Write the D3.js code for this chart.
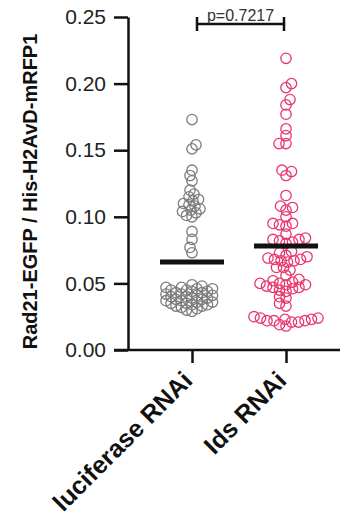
<!DOCTYPE html>
<html>
<head>
<meta charset="utf-8">
<script src="https://cdn.jsdelivr.net/npm/d3@7"></script>
<style>
  html, body { margin: 0; padding: 0; background: #ffffff; }
  svg { display: block; }
</style>
</head>
<body>
<svg id="chart"></svg>
<script>
// groups shown on the x axis
const categories = ["luciferase RNAi", "Ids RNAi"];

// per-cell ratios
const luciferaseValues = [
  0.173, 0.154, 0.151, 0.135, 0.131, 0.127, 0.120,
  0.117, 0.115, 0.113, 0.112, 0.110, 0.109, 0.108, 0.106, 0.105, 0.104, 0.103, 0.101, 0.100,
  0.089, 0.083, 0.077, 0.073,
  0.049, 0.048, 0.047, 0.047, 0.046, 0.046, 0.045, 0.045, 0.044, 0.044, 0.043, 0.043,
  0.042, 0.042, 0.041, 0.041, 0.040, 0.040, 0.039, 0.039, 0.038, 0.038, 0.037, 0.037,
  0.036, 0.036, 0.035, 0.035, 0.034, 0.034, 0.033, 0.033, 0.032, 0.031, 0.030, 0.029
];

const idsValues = [
  0.219, 0.200, 0.197, 0.188, 0.184, 0.177, 0.166, 0.161, 0.155, 0.155, 0.135, 0.134, 0.131,
  0.116, 0.108, 0.107, 0.105, 0.100, 0.095, 0.095, 0.094, 0.093, 0.087, 0.084, 0.083, 0.083,
  0.082, 0.081, 0.080,
  0.074, 0.073, 0.071, 0.070, 0.069, 0.068, 0.068, 0.067, 0.067, 0.066, 0.062, 0.062, 0.060,
  0.056, 0.053, 0.052, 0.051, 0.050, 0.050, 0.049, 0.049, 0.048, 0.047, 0.047, 0.046, 0.045,
  0.044, 0.040, 0.039, 0.035, 0.033,
  0.025, 0.024, 0.024, 0.023, 0.023, 0.022, 0.022, 0.022, 0.021, 0.021, 0.019, 0.018
];

const groupMeans = [0.066, 0.078];
const yTicks = [0.00, 0.05, 0.10, 0.15, 0.20, 0.25];
const pLabel = "p=0.7217";
const yTitle = "Rad21-EGFP / His-H2AvD-mRFP1";

const width = 342, height = 519;
const axisX = 128, axisBottom = 350, axisTop = 17;
const colors = ["#7d7d7d", "#e8386f"];
const dotR = 5.2;
const minDist = [5.6, 6.6];

const svg = d3.select("#chart").attr("width", width).attr("height", height);

const y = d3.scaleLinear().domain([0, 0.25]).range([axisBottom, axisTop]);
const x = d3.scalePoint().domain(categories).range([192, 286]);

// simple deterministic swarm so the dots spread sideways like Prism does
const swarm = (values, cx, dist) => {
  const placed = [];
  const sorted = values.map((v, i) => ({ v, i })).sort((a, b) => a.v - b.v);
  sorted.forEach((d, k) => {
    const py = y(d.v);
    const sign = k % 2 === 0 ? 1 : -1;
    for (let off = 0; off < 80; off += 0.5) {
      const cands = off === 0 ? [0] : [sign * off, -sign * off];
      let found = null;
      for (const c of cands) {
        const px = cx + c;
        const ok = placed.every(p => (p.x - px) ** 2 + (p.y - py) ** 2 >= dist * dist);
        if (ok) { found = px; break; }
      }
      if (found !== null) { placed.push({ x: found, y: py, v: d.v }); break; }
    }
  });
  return placed;
};

const groups = [luciferaseValues, idsValues];

groups.forEach((vals, gi) => {
  const pts = swarm(vals, x(categories[gi]), minDist[gi]);
  svg.append("g")
    .selectAll("circle")
    .data(pts)
    .join("circle")
    .attr("cx", d => d.x)
    .attr("cy", d => d.y)
    .attr("r", dotR)
    .attr("fill", "none")
    .attr("stroke", colors[gi])
    .attr("stroke-width", 1.3);
});

// mean bars
svg.append("g")
  .selectAll("line")
  .data(groupMeans)
  .join("line")
  .attr("x1", (d, i) => x(categories[i]) - 32)
  .attr("x2", (d, i) => x(categories[i]) + 32)
  .attr("y1", d => y(d))
  .attr("y2", d => y(d))
  .attr("stroke", "#111")
  .attr("stroke-width", 5);

// y axis
const yAxis = svg.append("g")
  .attr("transform", `translate(${axisX},0)`)
  .call(d3.axisLeft(y).tickValues(yTicks).tickFormat(d3.format(".2f")).tickSize(14).tickPadding(8).tickSizeOuter(0));
yAxis.select(".domain").attr("stroke", "#111").attr("stroke-width", 2.5);
yAxis.selectAll(".tick line").attr("stroke", "#111").attr("stroke-width", 2.5);
yAxis.selectAll(".tick text")
  .attr("font-family", "Liberation Sans, Arial, sans-serif")
  .attr("font-size", 21)
  .attr("fill", "#222");

// x axis
const xAxis = svg.append("g")
  .attr("transform", `translate(0,${axisBottom})`)
  .call(d3.axisBottom(x).tickSize(13).tickSizeOuter(0).tickFormat(""));
xAxis.select(".domain").remove();
xAxis.selectAll(".tick line").attr("stroke", "#111").attr("stroke-width", 2.5);
xAxis.append("line")
  .attr("x1", axisX - 14).attr("x2", 340)
  .attr("y1", 0).attr("y2", 0)
  .attr("stroke", "#111").attr("stroke-width", 2.5);

// rotated category labels
svg.append("g")
  .selectAll("text")
  .data(categories)
  .join("text")
  .attr("transform", d => `translate(${x(d) + 2},${axisBottom + 32}) rotate(-45)`)
  .attr("text-anchor", "end")
  .attr("font-family", "Liberation Sans, Arial, sans-serif")
  .attr("font-weight", "bold")
  .attr("font-size", 25)
  .attr("fill", "#111")
  .text(d => d);

// y title
svg.append("text")
  .attr("transform", `translate(37,${(axisTop + axisBottom) / 2 + 8}) rotate(-90)`)
  .attr("text-anchor", "middle")
  .attr("font-family", "Liberation Sans, Arial, sans-serif")
  .attr("font-weight", "bold")
  .attr("font-size", 20)
  .attr("fill", "#111")
  .text(yTitle);

// significance bracket
const bx1 = x(categories[0]) + 5, bx2 = x(categories[1]) - 2, by = 24;
svg.append("path")
  .attr("d", `M${bx1},${by - 7}V${by + 7}M${bx1},${by}H${bx2}M${bx2},${by - 7}V${by + 7}`)
  .attr("fill", "none")
  .attr("stroke", "#111")
  .attr("stroke-width", 2.5);
svg.append("text")
  .attr("x", (bx1 + bx2) / 2)
  .attr("y", by - 3)
  .attr("text-anchor", "middle")
  .attr("font-family", "Liberation Sans, Arial, sans-serif")
  .attr("font-size", 16)
  .attr("fill", "#333")
  .text(pLabel);
</script>
</body>
</html>
